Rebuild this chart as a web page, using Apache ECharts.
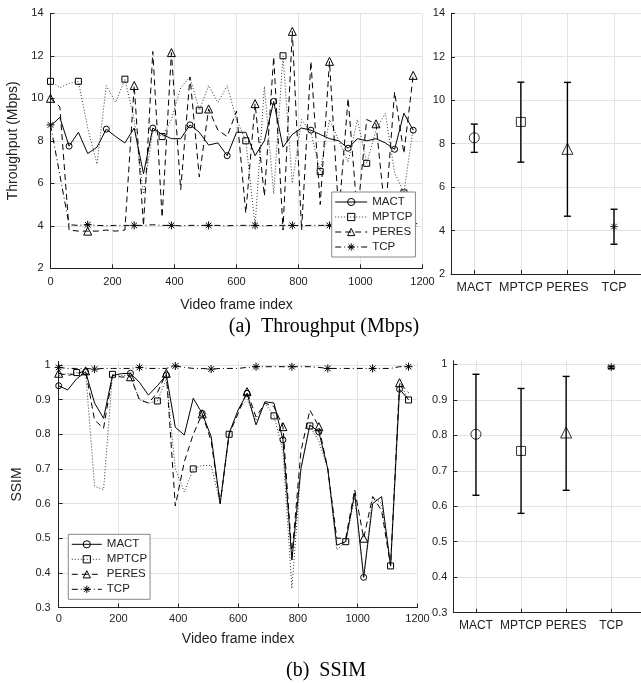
<!DOCTYPE html>
<html><head><meta charset="utf-8">
<script src="https://cdn.jsdelivr.net/npm/echarts@6/dist/echarts.min.js"></script>
<style>html,body{margin:0;padding:0;background:#fff}#c{width:641px;height:683px}</style>
</head><body><div id="c"></div>
<script>
// ---------- data ----------
const names = ['MACT', 'MPTCP', 'PERES', 'TCP'];
const frames = [0,30,60,90,120,150,180,210,240,270,300,330,360,390,420,450,480,510,540,570,600,630,660,690,720,750,780,810,840,870,900,930,960,990,1020,1050,1080,1110,1140,1170];

// Throughput (Mbps)
const thrMACT  = [8.7,9.1,7.75,8.4,7.4,7.7,8.55,8.2,7.9,8.6,6.45,8.6,8.3,8.1,8.1,8.75,8.4,7.8,7.9,7.3,8.4,8.4,7.3,8.0,9.85,7.7,8.3,8.6,8.5,8.3,8.1,8.0,7.65,8.1,8.0,8.1,7.9,7.6,9.3,8.5];
const thrMPTCP = [10.8,10.5,10.7,10.8,8.6,6.9,10.6,9.8,10.9,9.0,5.5,8.5,8.2,9.0,10.5,11.0,9.44,10.6,9.8,10.6,9.0,8.0,4.0,10.56,5.5,12.0,6.0,9.0,8.4,6.55,9.0,8.0,7.0,9.0,6.94,8.5,9.3,6.5,5.55,8.6];
const thrPERES = [10.0,9.6,3.8,3.75,3.75,3.75,3.8,3.75,3.8,10.6,4.0,12.2,4.4,12.15,5.7,11.0,6.3,9.5,8.5,8.2,9.4,4.6,9.75,5.4,11.95,3.8,13.15,3.8,11.74,5.0,11.74,4.5,10.0,4.5,9.0,8.8,4.5,10.3,7.4,11.08];
const thrTCP   = [8.75,6.4,4.05,4.02,4.05,4.02,4.0,4.02,4.02,4.02,4.02,4.05,4.02,4.02,4.0,4.02,4.02,4.02,4.02,4.0,4.02,4.02,4.02,4.0,4.02,4.02,4.02,4.0,4.02,4.02,4.02,4.0,4.02,4.02,4.02,4.05,4.02,4.02,4.05,4.1];
const thrMarks = {
  MACT:  [2,6,11,15,19,24,28,32,37,39],
  MPTCP: [0,3,8,12,16,21,25,29,34,38],
  PERES: [0,4,9,13,17,22,26,30,35,39],
  TCP:   [0,4,9,13,17,22,26,30,35,39]
};

// SSIM
const ssMACT  = [0.94,0.928,0.96,0.98,0.89,0.846,0.97,0.975,0.976,0.95,0.913,0.94,0.971,0.82,0.798,0.904,0.86,0.793,0.6,0.803,0.87,0.918,0.827,0.894,0.89,0.784,0.437,0.7,0.827,0.807,0.7,0.48,0.49,0.63,0.387,0.6,0.62,0.42,0.93,0.9];
const ssMPTCP = [0.97,0.975,0.978,0.98,0.65,0.64,0.973,0.97,0.97,0.9,0.89,0.896,0.96,0.7,0.634,0.70,0.71,0.71,0.6,0.8,0.87,0.9,0.84,0.89,0.853,0.75,0.355,0.7,0.824,0.78,0.7,0.466,0.49,0.62,0.39,0.62,0.6,0.42,0.95,0.899];
const ssPERES = [0.976,0.97,0.975,0.983,0.841,0.817,0.97,0.965,0.966,0.9,0.89,0.92,0.976,0.593,0.72,0.8,0.859,0.78,0.6,0.8,0.86,0.923,0.85,0.89,0.88,0.822,0.45,0.75,0.87,0.822,0.7,0.5,0.5,0.64,0.5,0.62,0.58,0.42,0.949,0.92];
const ssTCP   = [0.993,0.99,0.99,0.99,0.988,0.99,0.99,0.99,0.99,0.993,0.99,0.99,0.99,0.997,0.993,0.99,0.99,0.988,0.99,0.99,0.99,0.993,0.995,0.995,0.995,0.995,0.995,0.995,0.995,0.993,0.99,0.99,0.99,0.99,0.99,0.99,0.99,0.99,0.995,0.995];
const ssMarks = {
  MACT:  [0,3,8,12,16,21,25,29,34,38],
  MPTCP: [2,6,11,15,19,24,28,32,37,39],
  PERES: [0,3,8,12,16,21,25,29,34,38],
  TCP:   [0,4,9,13,17,22,26,30,35,39]
};

// summary (mean and error bar ends)
const thrMean = [8.27, 9.0, 7.76, 4.18];
const thrLow  = [7.6, 7.15, 4.66, 3.37];
const thrHigh = [8.9, 10.83, 10.82, 4.98];
const ssMean  = [0.803, 0.756, 0.808, 0.992];
const ssLow   = [0.631, 0.580, 0.645, 0.988];
const ssHigh  = [0.972, 0.932, 0.966, 0.995];

// tick labels
const thrYTicks = [2,4,6,8,10,12,14];
const ssYTicks  = [0.3,0.4,0.5,0.6,0.7,0.8,0.9,1];
const catTicks  = [1,2,3,4];

// ---------- styling ----------
const FONT = '"Liberation Sans", Arial, Helvetica, sans-serif';
const TXT = '#222';
const STAR = 'path://M0,-10L0,10M-10,0L10,0M-7.07,-7.07L7.07,7.07M-7.07,7.07L7.07,-7.07';
const sty = {
  MACT:  {type: 'solid',      symbol: 'circle',   size: 6, color: '#000'},
  MPTCP: {type: [1, 2],       symbol: 'rect',     size: 6, color: '#333'},
  PERES: {type: [6, 4],       symbol: 'triangle', size: 8, color: '#000'},
  TCP:   {type: [6, 3, 1, 3], symbol: STAR,       size: 8, color: '#000'}
};
const bigSym = ['circle', 'rect', 'triangle', STAR];
const bigSize = [10, 9, 11, 8];

function axis(o) {
  const base = {
    axisLine: {show: true, onZero: false, lineStyle: {color: TXT, width: 1}},
    axisTick: {show: true, inside: true, length: 4, lineStyle: {color: TXT}},
    axisLabel: {color: TXT, fontSize: 11, fontFamily: FONT, formatter: v => String(v)},
    splitLine: {show: true, lineStyle: {color: '#e3e3e3', width: 1}},
    nameTextStyle: {color: TXT, fontSize: 14, fontFamily: FONT}
  };
  for (const k in o) {
    if (base[k] && typeof base[k] === 'object' && !Array.isArray(o[k]) && typeof o[k] === 'object') {
      base[k] = Object.assign({}, base[k], o[k]);
    } else base[k] = o[k];
  }
  return base;
}

function lineSeries(name, gi, vals, marks) {
  const s = sty[name];
  const set = new Set(marks);
  return {
    type: 'line', name: name, xAxisIndex: gi, yAxisIndex: gi,
    data: frames.map((f, i) => [f, vals[i]]),
    symbol: s.symbol,
    symbolSize: (v, p) => set.has(p.dataIndex) ? s.size : 0,
    showSymbol: true, showAllSymbol: true,
    lineStyle: {color: s.color, width: 1, type: s.type},
    itemStyle: {color: 'rgba(0,0,0,0)', borderColor: '#000', borderWidth: 1},
    silent: true, z: 3
  };
}

function errSeries(gi, low, high) {
  return {
    type: 'custom', xAxisIndex: gi, yAxisIndex: gi, silent: true, z: 2,
    data: catTicks.map((c, i) => [c, low[i], high[i]]),
    encode: {x: 0, y: [1, 2]},
    renderItem: (params, api) => {
      const x = api.value(0);
      const lo = api.coord([x, api.value(1)]);
      const hi = api.coord([x, api.value(2)]);
      const hw = 3.5;
      const st = {stroke: '#000', lineWidth: 1.4};
      return {type: 'group', children: [
        {type: 'line', shape: {x1: lo[0], y1: lo[1], x2: hi[0], y2: hi[1]}, style: st},
        {type: 'line', shape: {x1: lo[0] - hw, y1: lo[1], x2: lo[0] + hw, y2: lo[1]}, style: st},
        {type: 'line', shape: {x1: hi[0] - hw, y1: hi[1], x2: hi[0] + hw, y2: hi[1]}, style: st}
      ]};
    }
  };
}

function meanSeries(gi, mean) {
  return {
    type: 'scatter', xAxisIndex: gi, yAxisIndex: gi, silent: true, z: 3,
    data: catTicks.map((c, i) => ({value: [c, mean[i]], symbol: bigSym[i], symbolSize: bigSize[i]})),
    itemStyle: {color: 'rgba(0,0,0,0)', borderColor: '#000', borderWidth: 1}
  };
}

function legend(left, top, w) {
  return {
    orient: 'vertical', left: left, top: top, itemWidth: w, itemHeight: 9, itemGap: 3,
    padding: [4, 3, 4, 3], backgroundColor: '#fff', borderColor: '#888', borderWidth: 1,
    textStyle: {fontSize: 11.5, lineHeight: 12, color: TXT, fontFamily: FONT},
    itemStyle: {color: 'rgba(0,0,0,0)', borderColor: '#000', borderWidth: 1},
    lineStyle: {width: 1},
    data: names, selectedMode: false
  };
}

const catFmt = v => names[Math.round(v) - 1] || '';

const option = {
  animation: false,
  backgroundColor: '#fff',
  grid: [
    {left: 50.5, top: 13.3, width: 372, height: 255, outerBoundsMode: 'none'},
    {left: 451, top: 13.3, width: 190, height: 260.7, outerBoundsMode: 'none'},
    {left: 58.7, top: 361.5, width: 358.8, height: 246, outerBoundsMode: 'none'},
    {left: 453.4, top: 360.8, width: 187.6, height: 251.9, outerBoundsMode: 'none'}
  ],
  xAxis: [
    axis({gridIndex: 0, type: 'value', min: 0, max: 1200, interval: 200, name: 'Video frame index', nameLocation: 'middle', nameGap: 30, axisLabel: {margin: 8}}),
    axis({gridIndex: 1, type: 'value', min: 0.5, max: 4.58, axisLabel: {customValues: catTicks, formatter: catFmt, margin: 7, fontSize: 12.5}, axisTick: {customValues: catTicks}}),
    axis({gridIndex: 2, type: 'value', min: 0, max: 1200, interval: 200, name: 'Video frame index', nameLocation: 'middle', nameGap: 25, axisLabel: {margin: 6}}),
    axis({gridIndex: 3, type: 'value', min: 0.5, max: 4.66, axisLabel: {customValues: catTicks, formatter: catFmt, margin: 7, fontSize: 12}, axisTick: {customValues: catTicks}})
  ],
  yAxis: [
    axis({gridIndex: 0, type: 'value', min: 2, max: 14, interval: 2, name: 'Throughput (Mbps)', nameLocation: 'middle', nameGap: 24, axisLabel: {margin: 7}}),
    axis({gridIndex: 1, type: 'value', min: 2, max: 14, interval: 2, axisLabel: {margin: 6}}),
    axis({gridIndex: 2, type: 'value', min: 0.3, max: 1.01, name: 'SSIM', nameLocation: 'middle', nameGap: 27, axisLabel: {customValues: ssYTicks, margin: 8}, axisTick: {customValues: ssYTicks}}),
    axis({gridIndex: 3, type: 'value', min: 0.3, max: 1.01, axisLabel: {customValues: ssYTicks, margin: 6}, axisTick: {customValues: ssYTicks}})
  ],
  legend: [legend(331.7, 192, 32), legend(68.3, 534.3, 30)],
  graphic: [
    {type: 'text', x: 324, y: 327, style: {text: '(a)  Throughput (Mbps)', font: '20px "Liberation Serif", "Times New Roman", serif', fill: '#000', textAlign: 'center', textVerticalAlign: 'middle'}},
    {type: 'text', x: 326, y: 671, style: {text: '(b)  SSIM', font: '20px "Liberation Serif", "Times New Roman", serif', fill: '#000', textAlign: 'center', textVerticalAlign: 'middle'}}
  ],
  series: [
    lineSeries('MACT', 0, thrMACT, thrMarks.MACT),
    lineSeries('MPTCP', 0, thrMPTCP, thrMarks.MPTCP),
    lineSeries('PERES', 0, thrPERES, thrMarks.PERES),
    lineSeries('TCP', 0, thrTCP, thrMarks.TCP),
    errSeries(1, thrLow, thrHigh),
    meanSeries(1, thrMean),
    lineSeries('MACT', 2, ssMACT, ssMarks.MACT),
    lineSeries('MPTCP', 2, ssMPTCP, ssMarks.MPTCP),
    lineSeries('PERES', 2, ssPERES, ssMarks.PERES),
    lineSeries('TCP', 2, ssTCP, ssMarks.TCP),
    errSeries(3, ssLow, ssHigh),
    meanSeries(3, ssMean)
  ]
};

const chart = echarts.init(document.getElementById('c'), null, {renderer: 'canvas'});
chart.setOption(option);
</script></body></html>
